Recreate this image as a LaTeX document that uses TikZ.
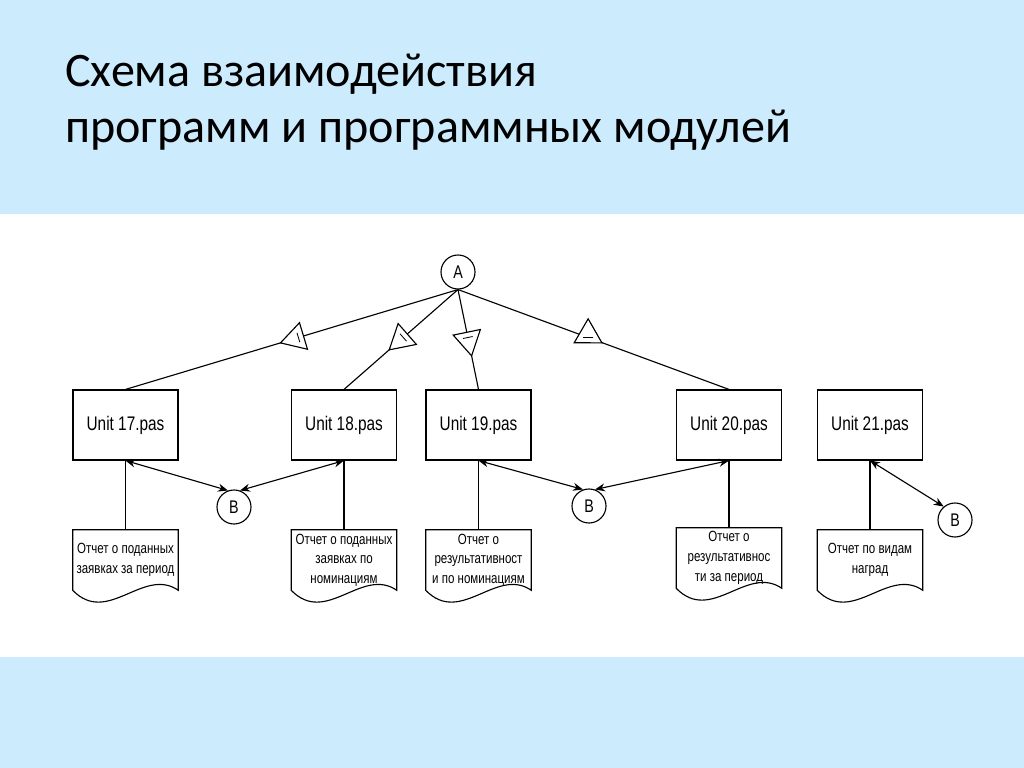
\documentclass[tikz,border=0pt]{standalone}
\usepackage{fontspec}
\setmainfont{Carlito}
\newfontfamily\gostfont[FakeStretch=0.78]{Liberation Sans}
\usetikzlibrary{shapes.geometric,arrows.meta}
\definecolor{band}{RGB}{204,235,253}
\newcommand{\mk}{\rule[-3.5pt]{0.6pt}{7pt}}

\begin{document}
\begin{tikzpicture}[
            x = 0.025cm, y = -0.025cm,
            title/.style = {anchor = base west, inner sep = 0mm, font = \fontsize{34.2}{40}\selectfont},
            unit/.style = {draw, line width = 0.8pt, minimum width = 2.625cm, minimum height = 1.75cm, inner sep = 0mm, font = \gostfont\fontsize{14}{16}\selectfont},
            conn/.style = {draw, line width = 0.8pt, circle, minimum size = 8.5mm, inner sep = 0mm, font = \gostfont\fontsize{13}{15}\selectfont},
            doc/.style = {minimum width = 2.625cm, minimum height = 1.5cm, inner sep = 0mm, align = center,
                font = \gostfont\fontsize{10.5}{14}\selectfont,
                append after command = {\pgfextra{\draw[line width = 0.8pt] (\tikzlastnode.north west) -- (\tikzlastnode.north east)
                    -- (\tikzlastnode.south east) .. controls +(-35,-24) and +(35,36) .. (\tikzlastnode.south west) -- cycle;}}},
            tri/.style = {draw, fill = white, line width = 0.8pt, isosceles triangle, isosceles triangle apex angle = 60,
                minimum height = 0.6cm, inner sep = 0mm, sloped, allow upside down, pos = 0.48},
            line/.style = {draw, line width = 0.8pt},
            arr/.style = {draw, line width = 0.8pt, {Stealth[length = 2.5mm, width = 2mm]}-{Stealth[length = 2.5mm, width = 2mm]}},
        ]
        \useasboundingbox (0,0) rectangle (1024,768);
        \fill[band] (0,0) rectangle (1024,214);
        \fill[band] (0,657) rectangle (1024,768);

        \node (t1) [title] at (65,87) {Схема взаимодействия};
        \node (t2) [title] at (65,143) {программ и программных модулей};

        \node (a) [conn] at (458,272) {A};

        \node (u17) [unit] at (125.5,425) {Unit 17.pas};
        \node (u18) [unit] at (344,425) {Unit 18.pas};
        \node (u19) [unit] at (478.5,425) {Unit 19.pas};
        \node (u20) [unit] at (729,425) {Unit 20.pas};
        \node (u21) [unit] at (870,425) {Unit 21.pas};

        \node (b1) [conn] at (234,507) {B};
        \node (b2) [conn] at (589,506) {B};
        \node (b3) [conn] at (955,520) {B};

        \node (d17) [doc] at (125.5,560) {Отчет о поданных\\заявках за период};
        \node (d18) [doc] at (344,560) {Отчет о поданных\\заявках по\\номинациям};
        \node (d19) [doc] at (478.5,560) {Отчет о\\результативност\\и по номинациям};
        \node (d20) [doc] at (729,558) {Отчет о\\результативнос\\ти за период};
        \node (d21) [doc] at (870,560) {Отчет по видам\\наград};

        \path[line] (a.south) -- node[tri]{\mk} (u17.north);
        \path[line] (a.south) -- node[tri]{\mk} (u18.north);
        \path[line] (a.south) -- node[tri]{\mk} (u19.north);
        \path[line] (a.south) -- node[tri, rotate = 110]{\mk} (u20.north);

        \path[arr] (u17.south) -- (b1.110);
        \path[arr] (u18.south) -- (b1.70);
        \path[arr] (u19.south) -- (b2.110);
        \path[arr] (u20.south) -- (b2.70);
        \path[arr] (u21.south) -- (b3.130);

        \path[line] (u17.south) -- (d17.north);
        \path[line] (u18.south) -- (d18.north);
        \path[line] (u19.south) -- (d19.north);
        \path[line] (u20.south) -- (d20.north);
        \path[line] (u21.south) -- (d21.north);
    \end{tikzpicture}
\end{document}
